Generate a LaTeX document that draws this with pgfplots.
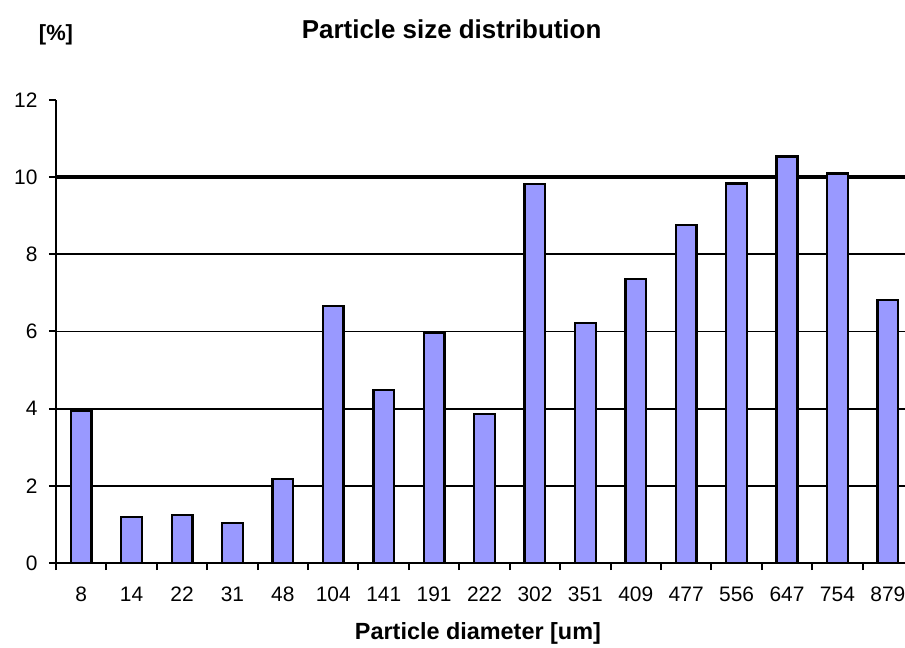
\documentclass[border=0pt]{standalone}
\usepackage{fontspec}
\setmainfont{Liberation Sans}
\usepackage{pgfplots}
\pgfplotsset{compat=1.18}
\definecolor{barblue}{HTML}{9999FF}
\begin{document}
\begin{tikzpicture}
\path[use as bounding box] (-56bp,-85bp) rectangle (849bp,563bp);
\begin{axis}[
  scale only axis,
  width=849bp, height=463bp,
  at={(0,0)}, anchor=south west,
  xmin=-0.5, xmax=16.34,
  ymin=0, ymax=12,
  axis x line=bottom, axis y line=left,
  axis line style={-, line width=2bp, black},
  tick align=outside,
  xtick={0,...,16},
  xticklabels={8,14,22,31,48,104,141,191,222,302,351,409,477,556,647,754,879},
  major x tick style={draw=none},
  minor xtick={-0.5,0.5,...,15.5},
  minor tick length=7bp,
  minor x tick style={line width=2bp, black},
  ytick={0,2,...,10},
  extra y ticks={12},
  extra y tick style={grid=none},
  major tick length=7bp,
  major y tick style={line width=2bp, black},
  ymajorgrids,
  major grid style={line width=1.8bp, black},
  /pgf/number format/assume math mode=true,
  ticklabel style={font=\fontsize{21}{24}\selectfont},
  xticklabel style={anchor=north, text height=15bp, text depth=0pt, yshift=-13bp},
  yticklabel style={xshift=-8bp},
  title={\textbf{Particle size distribution}},
  title style={font=\fontsize{26}{30}\selectfont, at={(axis description cs:0.466,1.14)}, anchor=center},
  xlabel={\textbf{Particle diameter [um]}},
  xlabel style={font=\fontsize{23.5}{28}\selectfont, at={(axis description cs:0.497,-0.153)}, anchor=center},
  ylabel={\textbf{[\%]}},
  ylabel style={font=\fontsize{22}{26}\selectfont, rotate=-90, at={(axis description cs:0,1.14)}, anchor=center},
  ybar, bar width=0.41,
]
\draw[line width=3.6bp, black] (axis cs:-0.5,10) -- (axis cs:16.34,10);
\addplot[fill=barblue, draw=black, line width=2.4bp, bar shift=0pt] coordinates {
(0,3.95) (1,1.19) (2,1.24) (3,1.04) (4,2.18) (5,6.66) (6,4.48) (7,5.96) (8,3.86)
(9,9.82) (10,6.22) (11,7.36) (12,8.76) (13,9.84) (14,10.54) (15,10.1) (16,6.81)
};
\end{axis}
\end{tikzpicture}
\end{document}
